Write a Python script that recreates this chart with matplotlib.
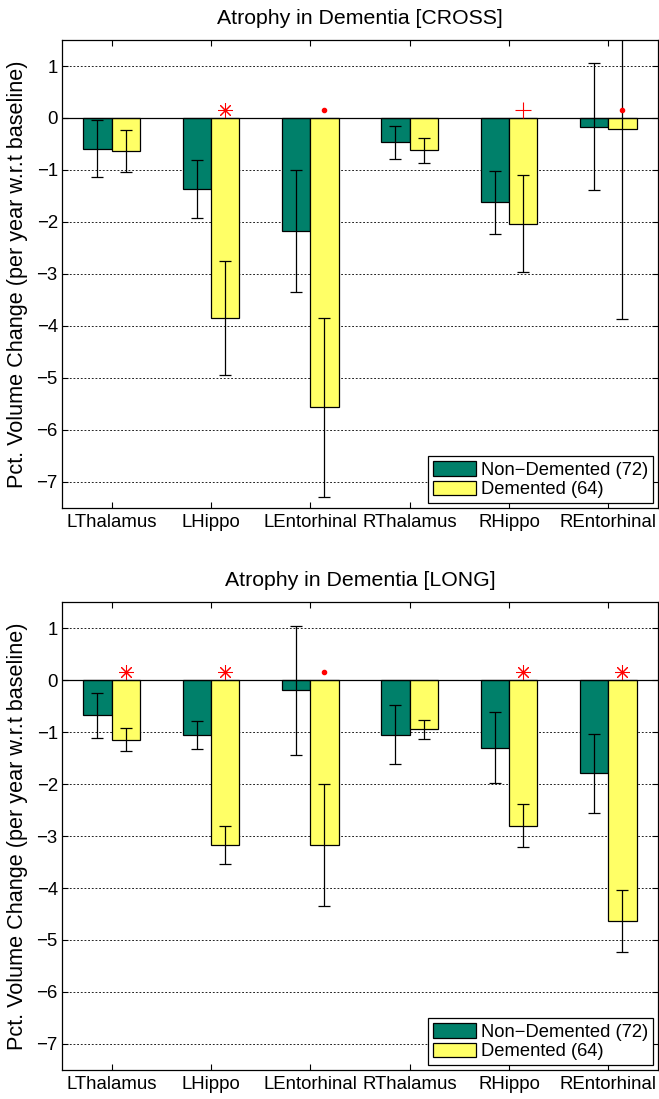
import numpy as np
import matplotlib
matplotlib.use('Agg')
import matplotlib.pyplot as plt

plt.rcParams['font.family'] = ['Liberation Sans', 'DejaVu Sans']

# =============================================================================
# DATA
# =============================================================================
regions = ['LThalamus', 'LHippo', 'LEntorhinal', 'RThalamus', 'RHippo', 'REntorhinal']
group_names = ['Non\u2212Demented (72)', 'Demented (64)']

# CROSS
cross_nd = [-0.59, -1.37, -2.17, -0.47, -1.62, -0.17]
cross_nd_err = [0.55, 0.56, 1.17, 0.31, 0.61, 1.22]
cross_d = [-0.63, -3.85, -5.56, -0.62, -2.03, -0.22]
cross_d_err = [0.40, 1.10, 1.72, 0.24, 0.93, 3.64]
cross_sig = [None, '*', '.', None, '+', '.']

# LONG
long_nd = [-0.68, -1.05, -0.20, -1.05, -1.30, -1.79]
long_nd_err = [0.43, 0.27, 1.24, 0.57, 0.69, 0.76]
long_d = [-1.15, -3.17, -3.17, -0.95, -2.80, -4.64]
long_d_err = [0.22, 0.37, 1.17, 0.18, 0.42, 0.60]
long_sig = ['*', '*', '.', None, '*', '*']

sig_y = 0.16

green = '#00806A'
yellow = '#FFFF66'

fig = plt.figure(figsize=(6.59, 10.99), dpi=100)
ax1 = fig.add_axes([0.094, 0.5378, 0.9044, 0.4258])
ax2 = fig.add_axes([0.094, 0.0264, 0.9044, 0.4258])

x = np.arange(1, len(regions) + 1)
w = 0.286
off = 0.143


def draw_panel(ax, nd, nd_err, d, d_err, sig, title):
    for yv in range(-7, 2):
        if yv != 0:
            ax.axhline(yv, color='black', lw=0.6, ls=(0, (2.2, 2.2)), zorder=0)
    ax.bar(x - off, nd, w, color=green, edgecolor='black', lw=0.9,
           label=group_names[0], zorder=2)
    ax.bar(x + off, d, w, color=yellow, edgecolor='black', lw=0.9,
           label=group_names[1], zorder=2)
    ax.axhline(0, color='black', lw=0.9, zorder=3)
    ax.errorbar(x - off, nd, yerr=nd_err, fmt='none', ecolor='black',
                elinewidth=0.9, capsize=4.3, capthick=0.9, zorder=4)
    ax.errorbar(x + off, d, yerr=d_err, fmt='none', ecolor='black',
                elinewidth=0.9, capsize=4.3, capthick=0.9, zorder=4)
    for xi, s in zip(x, sig):
        if s == '*':
            ax.plot(xi + off, sig_y, marker=(8, 2, 0), ms=10.5, mec='red',
                    mew=0.75, ls='none', zorder=5)
        elif s == '.':
            ax.plot(xi + off, sig_y, marker='o', ms=3, mfc='red', mec='red',
                    ls='none', zorder=5)
        elif s == '+':
            ax.plot(xi + off, sig_y, marker='+', ms=11, mec='red',
                    mew=0.8, ls='none', zorder=5)
    ax.set_xlim(0.5, 6.5)
    ax.set_ylim(-7.5, 1.5)
    ax.set_xticks(x)
    ax.set_xticklabels(regions, fontsize=13.4)
    ax.set_yticks(range(-7, 2))
    ax.set_yticklabels([str(v).replace('-', '\u2212') for v in range(-7, 2)],
                       fontsize=13.4)
    ax.tick_params(direction='in', length=4, width=0.8, top=True, right=True)
    ax.tick_params(axis='x', pad=4.5)
    ax.tick_params(axis='y', pad=3)
    for sp in ax.spines.values():
        sp.set_linewidth(0.9)
    ax.set_title(title, fontsize=15.3, pad=11.5)
    ax.set_ylabel('Pct. Volume Change (per year w.r.t baseline)', fontsize=15.6)
    ax.yaxis.set_label_coords(-0.057, 0.5)
    leg = ax.legend(loc='lower right', fontsize=13.2, fancybox=False,
                    edgecolor='black', framealpha=1, handlelength=2.35,
                    handleheight=0.85, handletextpad=0.25, borderpad=0.28,
                    labelspacing=0.1, borderaxespad=0.25)
    leg.get_frame().set_linewidth(0.9)


draw_panel(ax1, cross_nd, cross_nd_err, cross_d, cross_d_err, cross_sig,
           'Atrophy in Dementia [CROSS]')
draw_panel(ax2, long_nd, long_nd_err, long_d, long_d_err, long_sig,
           'Atrophy in Dementia [LONG]')

fig.savefig('out.png', dpi=100)
